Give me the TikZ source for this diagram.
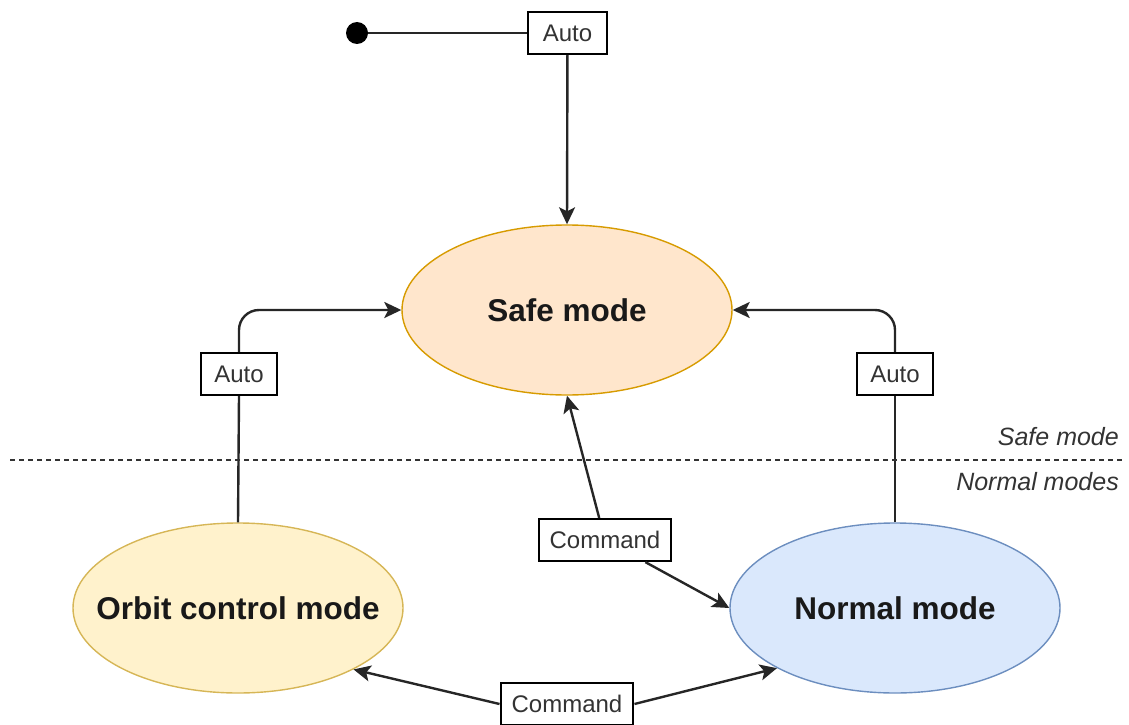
\documentclass[tikz,border=0pt]{standalone}
\usepackage{fontspec}
\setmainfont{Liberation Sans}
\usetikzlibrary{arrows.meta,shapes.geometric}

\definecolor{safefill}{HTML}{FFE6CC}
\definecolor{safeline}{HTML}{D79B00}
\definecolor{orbitfill}{HTML}{FFF2CC}
\definecolor{orbitline}{HTML}{D6B656}
\definecolor{normfill}{HTML}{DAE8FC}
\definecolor{normline}{HTML}{6C8EBF}
\definecolor{labeltext}{HTML}{333333}

% state names are centred in a zero-width box so the ellipse keeps its set size
\newcommand{\statename}[1]{\makebox[0pt][c]{#1}}

\tikzset{
  modestate/.style={ellipse, draw, line width=1.4pt, minimum width=330pt, minimum height=170pt,
    inner sep=0pt, font=\fontsize{31.5}{36}\selectfont\bfseries, text=black!90},
  trigger/.style={draw, line width=2.2pt, fill=white, minimum height=42pt, inner xsep=11pt,
    inner ysep=0pt, font=\fontsize{24}{28}\selectfont, text=labeltext},
  startdot/.style={circle, fill=black, minimum size=22pt, inner sep=0pt},
  flow/.style={line width=2.4pt, draw=black!85},
  flowarrow/.style={flow, -{Stealth[length=17pt, width=16pt, inset=4pt]}},
  regionlabel/.style={anchor=east, font=\fontsize{25}{29}\selectfont\itshape, text=labeltext, inner sep=0pt}
}

\begin{document}
\begin{tikzpicture}[x=1pt, y=-1pt]
  \useasboundingbox (0,0) rectangle (1129,725);

  % states
  \node[modestate, fill=safefill, draw=safeline]   (safe)   at (567,310) {\statename{Safe mode}};
  \node[modestate, fill=orbitfill, draw=orbitline] (orbit)  at (238,608) {\statename{Orbit control mode}};
  \node[modestate, fill=normfill, draw=normline]   (normal) at (895,608) {\statename{Normal mode}};

  % initial pseudo-state
  \node[startdot] (start) at (357,33) {};

  % transition triggers
  \node[trigger, minimum width=79pt] (autoTop)   at (567.5,33) {Auto};
  \node[trigger, minimum width=76pt] (autoLeft)  at (239,374) {Auto};
  \node[trigger, minimum width=76pt] (autoRight) at (895,374) {Auto};
  \node[trigger] (cmdMid)    at (605,540) {Command};
  \node[trigger] (cmdBottom) at (567,704) {Command};

  % initial transition
  \draw[flow] (start) -- (autoTop);
  \draw[flowarrow] (autoTop) -- (safe.north);

  % automatic fallbacks to safe mode
  \draw[flow] (orbit.north) -- (autoLeft.south);
  \draw[flowarrow, rounded corners=20pt] (autoLeft.north) |- (safe.west);
  \draw[flow] (normal.north) -- (autoRight.south);
  \draw[flowarrow, rounded corners=20pt] (autoRight.north) |- (safe.east);

  % commanded transitions
  \draw[flowarrow] (cmdMid) -- (safe.south);
  \draw[flowarrow] (cmdMid) -- (normal.west);
  \draw[flowarrow] (cmdBottom.west) -- (orbit.-28);
  \draw[flowarrow] (cmdBottom.east) -- (normal.207);

  % boundary between mode groups
  \coordinate (splitL) at (10,460);
  \coordinate (splitR) at (1122,460);
  \draw[line width=1.4pt, draw=black!80, dash pattern=on 5pt off 4pt] (splitL) -- (splitR);
  \node[regionlabel] (lblSafe)   at (1119,437) {Safe mode};
  \node[regionlabel] (lblNormal) at (1119,482) {Normal modes};
\end{tikzpicture}
\end{document}
